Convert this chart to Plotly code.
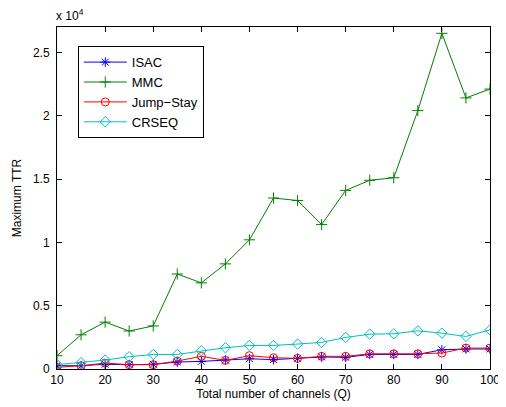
import plotly.graph_objects as go

Q = [10, 15, 20, 25, 30, 35, 40, 45, 50, 55, 60, 65, 70, 75, 80, 85, 90, 95, 100]
isac = [260, 260, 370, 340, 370, 550, 600, 710, 810, 740, 840, 950, 920, 1150, 1150, 1150, 1520, 1580, 1580]
mmc = [1050, 2700, 3700, 3000, 3400, 7500, 6800, 8300, 10200, 13500, 13300, 11400, 14100, 14900, 15100, 20400, 26500, 21400, 22100]
jump_stay = [130, 260, 470, 340, 340, 630, 1000, 680, 1050, 890, 840, 1000, 1000, 1200, 1200, 1200, 1260, 1650, 1650]
crseq = [340, 500, 710, 970, 1150, 1150, 1440, 1680, 1860, 1860, 1970, 2100, 2490, 2750, 2780, 3010, 2830, 2570, 3090]

y_tickvals = [0, 5000, 10000, 15000, 20000, 25000]
y_ticktext = ["0", "0.5", "1", "1.5", "2", "2.5"]
x_tickvals = [10, 20, 30, 40, 50, 60, 70, 80, 90, 100]

FONT = "Liberation Sans, Arial, Helvetica, sans-serif"

fig = go.Figure()
series = [
    ("ISAC", isac, "#0000FF", "asterisk-open"),
    ("MMC", mmc, "#008000", "cross-thin-open"),
    ("Jump\u2212Stay", jump_stay, "#FF0000", "circle-open"),
    ("CRSEQ", crseq, "#00BFBF", "diamond-open"),
]
for name, vals, col, sym in series:
    fig.add_trace(go.Scatter(
        x=Q, y=vals, name=name, mode="lines+markers",
        line=dict(color=col, width=1),
        marker=dict(symbol=sym, size=8, color=col, line=dict(color=col, width=1)),
    ))

axis_common = dict(
    showgrid=False, zeroline=False, showline=True, linecolor="black", linewidth=1,
    mirror="ticks", ticks="inside", ticklen=5, tickcolor="black", automargin=False,
    tickfont=dict(family=FONT, size=12, color="black"),
)
fig.update_xaxes(range=[10, 100], tickvals=x_tickvals,
                 title=dict(text="Total number of channels (Q)", font=dict(family=FONT, size=12, color="black"), standoff=2),
                 **axis_common)
fig.update_yaxes(range=[0, 27000], tickvals=y_tickvals, ticktext=y_ticktext, ticklabelstandoff=4,
                 title=dict(text="Maximum TTR", font=dict(family=FONT, size=12, color="black"), standoff=8),
                 **axis_common)

fig.add_annotation(x=0, y=1, xref="paper", yref="paper", xanchor="left", yanchor="bottom",
                   text="x 10<sup>4</sup>", showarrow=False, yshift=2, xshift=-3,
                   font=dict(family=FONT, size=12, color="black"))

# page body has an 8px default margin; margins compensate so the plot area lands where the reference has it
fig.update_layout(
    width=506, height=407,
    margin=dict(l=49, r=24, t=19, b=46),
    paper_bgcolor="white", plot_bgcolor="white",
    font=dict(family=FONT, size=12, color="black"),
    legend=dict(x=0.048, y=0.944, xanchor="left", yanchor="top",
                bordercolor="black", borderwidth=1, bgcolor="white",
                font=dict(family=FONT, size=13, color="black"),
                tracegroupgap=0, itemwidth=43),
)

fig.write_html("out.html")
